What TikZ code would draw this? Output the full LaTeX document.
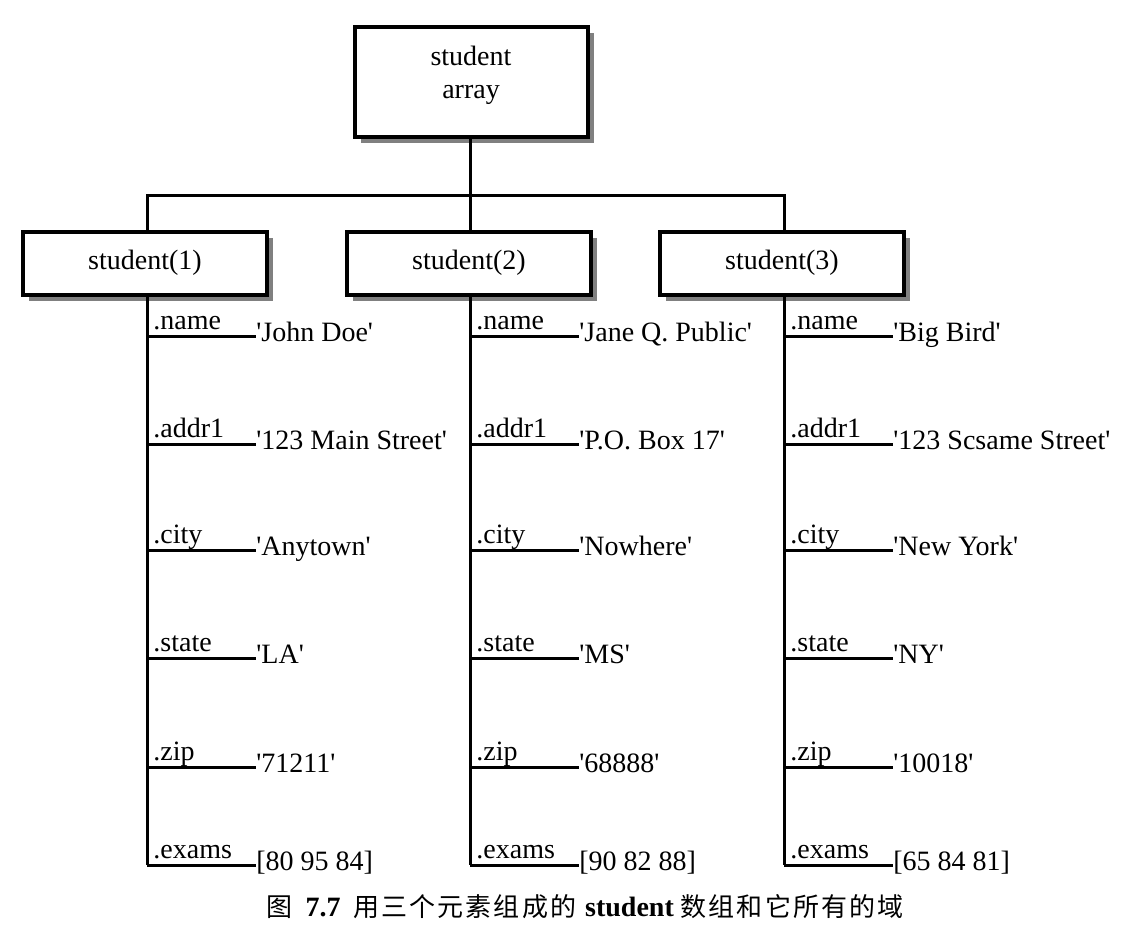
\documentclass[tikz,border=0pt]{standalone}
\usepackage{fontspec}
\setmainfont{Liberation Serif}
\newfontfamily\cjk{Noto Sans CJK SC}[LetterSpace=8]
\usetikzlibrary{positioning,shadows}
\newcommand{\q}{\textquotesingle}

\begin{document}
\begin{tikzpicture}[x=0.5pt, y=-0.5pt,
    box/.style={draw, line width=2pt, fill=white, inner sep=0pt,
      font=\fontsize{14}{16.5}\selectfont, align=center,
      drop shadow={shadow xshift=3pt, shadow yshift=-3pt, fill=gray, opacity=1}},
    lnk/.style={line width=1.5pt},
    fld/.style={anchor=base west, inner sep=0pt, font=\fontsize{14}{17}\selectfont},
    val/.style={anchor=base west, inner sep=0pt, font=\fontsize{14}{17}\selectfont}]
\useasboundingbox (0,0) rectangle (1140,928);

% the array and its three elements
\node[box, minimum width=116.5pt, minimum height=55pt] (arr) at (471,82) {};
\node[font=\fontsize{14}{16.5}\selectfont, align=center, inner sep=0pt] (arrtxt)
  at ([yshift=3.5pt]arr.center) {student\\array};
\node[box, minimum width=122pt, minimum height=31.5pt] (s1) at (145,263) {student(1)};
\node[box, minimum width=122pt, minimum height=31.5pt] (s2) at (469,263) {student(2)};
\node[box, minimum width=122pt, minimum height=31.5pt] (s3) at (782,263) {student(3)};

% fields of every element
\foreach \f/\y/\va/\vb/\vc in {
    name/336/\q John Doe\q/\q Jane Q. Public\q/\q Big Bird\q,
    addr1/444/\q 123 Main Street\q/\q P.O. Box 17\q/\q 123 Scsame Street\q,
    city/550/\q Anytown\q/\q Nowhere\q/\q New York\q,
    state/658/\q LA\q/\q MS\q/\q NY\q,
    zip/767/\q 71211\q/\q 68888\q/\q 10018\q,
    exams/865/[80 95 84]/[90 82 88]/[65 84 81]}{
  \foreach \s/\x/\v in {1/147/\va, 2/470/\vb, 3/784/\vc}{
    \coordinate (s\s-\f) at (\x,\y);
    \node[fld] (l\s-\f) at (\x+6,\y-7) {.\f};
    \node[val] (v\s-\f) at (\x+109,\y+5) {\v};
    \draw[lnk] (s\s-\f) -- (v\s-\f.west |- s\s-\f);
  }
}
\foreach \s in {1,2,3}
  \draw[lnk] (s\s-exams |- s\s.south) -- (s\s-exams);

\coordinate (bus) at (470,195);
\draw[lnk] (arr.south -| bus) -- (bus);
\draw[lnk] (s1-name |- s1.north) |- (bus) -| (s3-name |- s3.north);
\draw[lnk] (s2-name |- s2.north) -- (bus);

% caption
\node[font=\fontsize{14}{16}\selectfont, inner sep=0pt] (cap) at (585,907)
  {{\cjk\fontsize{13}{15}\selectfont 图}\hspace{3pt} \textbf{7.7}\hspace{3pt}
   {\cjk\fontsize{13}{15}\selectfont 用三个元素组成的}\hspace{1pt} \textbf{student}
   {\cjk\fontsize{13}{15}\selectfont 数组和它所有的域}};
\end{tikzpicture}
\end{document}
